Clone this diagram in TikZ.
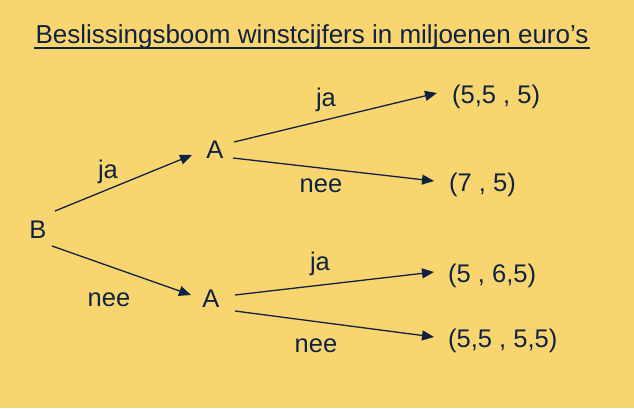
\documentclass[tikz,border=0pt]{standalone}
\usepackage{fontspec}
\setmainfont{Liberation Sans}
\usetikzlibrary{arrows.meta}
\definecolor{bgc}{HTML}{F8D56F}
\definecolor{ink}{HTML}{0E2241}
\begin{document}
\begin{tikzpicture}[x=1pt,y=-1pt,
  txt/.style={inner sep=0pt,text=ink,font=\fontsize{25.5}{30}\selectfont},
  arr/.style={draw=ink,line width=1.3pt,-{Triangle[length=12pt,width=10pt]}}]
\fill[bgc] (0,0) rectangle (634,408);
\useasboundingbox (0,0) rectangle (634,408);
\node[txt,anchor=base,font=\fontsize{26}{30}\selectfont] (title) at (312,43) {Beslissingsboom winstcijfers in miljoenen euro’s};
\draw[ink,line width=2pt] (34,47.5) -- (590,47.5);
\node[txt,anchor=base] (B) at (38,238) {B};
\node[txt,anchor=base] (A1) at (215,158) {A};
\node[txt,anchor=base] (A2) at (211,307) {A};
\node[txt,anchor=base west] (r1) at (452,103) {(5,5 , 5)};
\node[txt,anchor=base west] (r2) at (449,191) {(7 , 5)};
\node[txt,anchor=base west] (r3) at (448,282) {(5 , 6,5)};
\node[txt,anchor=base west] (r4) at (448,347) {(5,5 , 5,5)};
\node[txt,anchor=base] (l1) at (108,178) {ja};
\node[txt,anchor=base] (l2) at (109,306) {nee};
\node[txt,anchor=base] (l3) at (326,106) {ja};
\node[txt,anchor=base] (l4) at (321,192) {nee};
\node[txt,anchor=base] (l5) at (320,270) {ja};
\node[txt,anchor=base] (l6) at (316,352) {nee};
\coordinate (Bs1) at (55,211);
\coordinate (Bs2) at (52,246);
\coordinate (A1in) at (192,155);
\coordinate (A2in) at (191,295);
\coordinate (A1s1) at (234,142);
\coordinate (A1s2) at (233,158);
\coordinate (A2s1) at (235,295);
\coordinate (A2s2) at (235,311);
\coordinate (r1in) at (437,93);
\coordinate (r2in) at (434,181);
\coordinate (r3in) at (434,272);
\coordinate (r4in) at (434,337);
\draw[arr] (Bs1) -- (A1in);
\draw[arr] (Bs2) -- (A2in);
\draw[arr] (A1s1) -- (r1in);
\draw[arr] (A1s2) -- (r2in);
\draw[arr] (A2s1) -- (r3in);
\draw[arr] (A2s2) -- (r4in);
\end{tikzpicture}
\end{document}
